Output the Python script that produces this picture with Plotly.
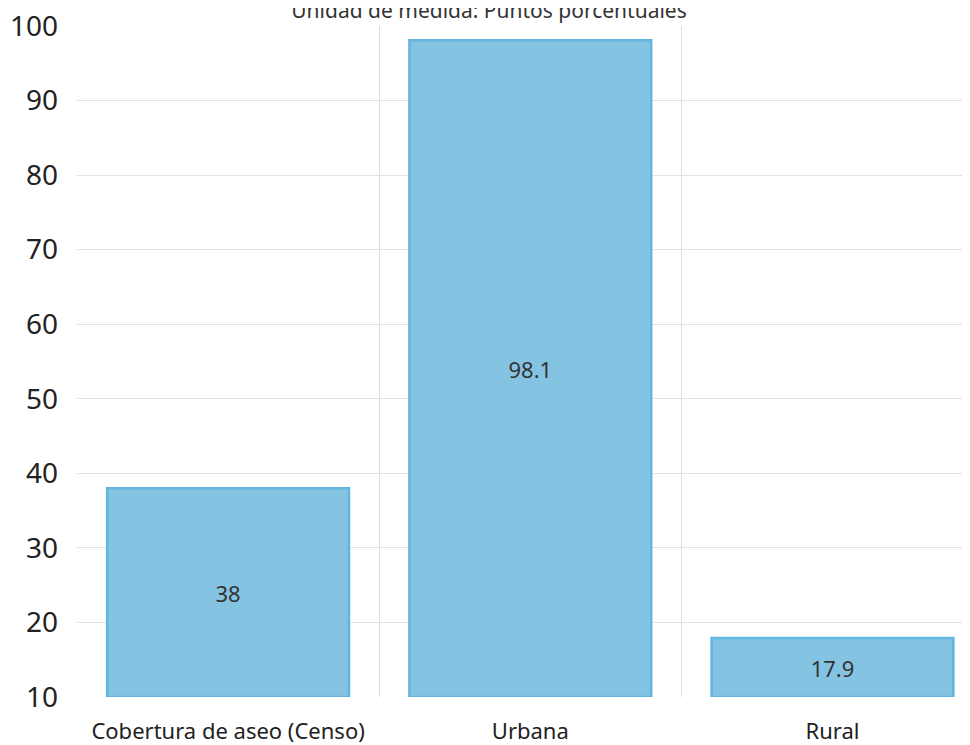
import plotly.graph_objects as go

categories = ["Cobertura de aseo (Censo)", "Urbana", "Rural"]
values = [38, 98.1, 17.9]
y_min = 10
y_max = 100
y_ticks = [10, 20, 30, 40, 50, 60, 70, 80, 90, 100]
title_text = "Unidad de medida: Puntos porcentuales"

fig = go.Figure()
fig.add_trace(go.Bar(
    x=categories,
    y=[v - y_min for v in values],
    base=y_min,
    text=[str(v) for v in values],
    textposition="inside",
    insidetextanchor="middle",
    textfont=dict(family="Noto Sans", size=22, color="#333333"),
    marker=dict(color="rgba(133,195,227,1)", line=dict(color="#62b5de", width=2.5)),
    width=0.8,
    hoverinfo="skip",
))

fig.update_layout(
    width=962, height=737,
    margin=dict(l=69, r=0, t=18, b=48, autoexpand=False),
    plot_bgcolor="white", paper_bgcolor="white",
    showlegend=False,
    title=dict(text=title_text, x=0.5, xanchor="center", y=0.996, yanchor="middle",
               font=dict(family="Noto Sans", size=21, color="#333333")),
    font=dict(family="Noto Sans"),
)
fig.update_xaxes(
    type="category", range=[-0.5, 2.455], tickson="boundaries",
    showgrid=True, gridcolor="#dedede", gridwidth=1,
    showline=False, zeroline=False, ticks="", automargin=False,
    ticklabelstandoff=19, ticklabeloverflow="allow",
    tickfont=dict(family="Noto Sans", size=22, color="#222222"),
)
fig.update_yaxes(
    range=[y_min, y_max], tickvals=y_ticks,
    showgrid=True, gridcolor="#e3e3e3", gridwidth=1,
    showline=False, zeroline=False, ticks="", ticklabelstandoff=18, automargin=False,
    ticklabeloverflow="allow",
    tickfont=dict(family="Noto Sans", size=28, color="#222222"),
)

fig.write_html("out.html")
